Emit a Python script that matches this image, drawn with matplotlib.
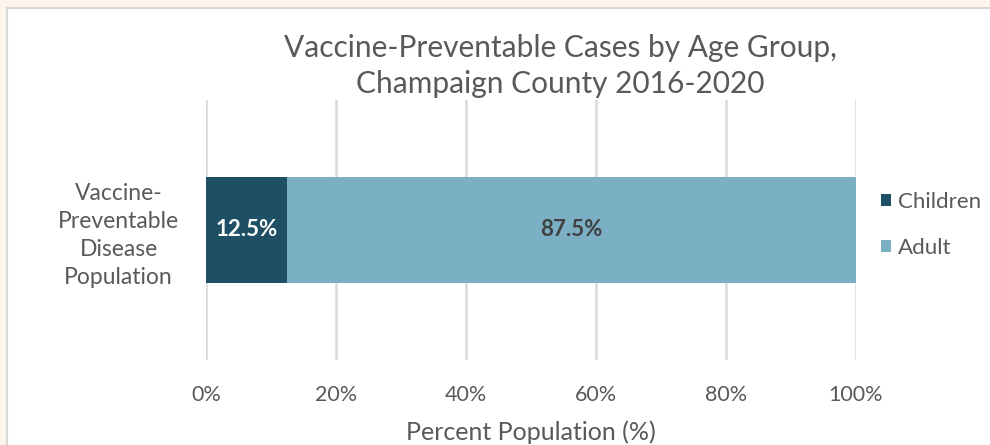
import matplotlib
matplotlib.use("Agg")
import matplotlib.pyplot as plt
from matplotlib.patches import Rectangle
import numpy as np

categories = ["Vaccine-\nPreventable\nDisease\nPopulation"]
series_names = ["Children", "Adult"]
children = [12.5]
adult = [87.5]
x_ticks = [0, 20, 40, 60, 80, 100]
x_tick_labels = ["0%", "20%", "40%", "60%", "80%", "100%"]

colors = ["#1e4f64", "#7aafc4"]
text_gray = "#595959"
font = "Lato"

fig = plt.figure(figsize=(9.9, 4.45), dpi=100)
fig.patch.set_facecolor("#fdf5eb")
# white panel with light border
panel = Rectangle((7/990, -0.01), 1.0, 1 - 8/445 + 0.01, transform=fig.transFigure,
                  facecolor="white", edgecolor="#d8d8d8", linewidth=1.5, zorder=-10)
fig.patches.append(panel)

ax = fig.add_axes([206/990, 1 - 360/445, 650/990, 260/445])
ax.set_facecolor("none")
y = np.arange(len(categories))
ax.barh(y, children, height=0.404, color=colors[0], label=series_names[0], zorder=3)
ax.barh(y, adult, left=children, height=0.404, color=colors[1], label=series_names[1], zorder=3)

for i in range(len(categories)):
    ax.text(children[i] / 2, y[i], f"{children[i]}%", ha="center", va="center",
            color="white", fontsize=16, fontweight="bold", family=font, zorder=4)
    ax.text(children[i] + adult[i] / 2, y[i], f"{adult[i]}%", ha="center", va="center",
            color="#404040", fontsize=16, fontweight="bold", family=font, zorder=4)

ax.set_xlim(0, 100)
ax.set_ylim(-0.5, 0.5)
ax.set_xticks(x_ticks)
ax.set_xticklabels(x_tick_labels, family=font, fontsize=15.5, color=text_gray)
ax.set_yticks(y)
ax.set_yticklabels(categories, family=font, fontsize=16.5, color=text_gray,
                   ha="center", linespacing=1.42)
ax.tick_params(axis="y", length=0, pad=63)
ax.tick_params(axis="x", length=0, pad=18)
ax.grid(axis="x", color="#d9d9d9", linewidth=1.8, zorder=0)
for s in ax.spines.values():
    s.set_visible(False)

ax.set_xlabel("Percent Population (%)", family=font, fontsize=18, color=text_gray, labelpad=11)

fig.text(560/990, 1 - 66/445, "Vaccine-Preventable Cases by Age Group,\nChampaign County 2016-2020",
         ha="center", va="center", family=font, fontsize=21.5, color=text_gray, linespacing=1.38)

leg = ax.legend(loc="center left", bbox_to_anchor=(1.025, 0.52), borderaxespad=0,
                frameon=False,
                prop={"family": font, "size": 16}, handlelength=0.45, handleheight=0.45,
                handletextpad=0.3, labelspacing=1.15, labelcolor=text_gray)

fig.savefig("out.png", dpi=100, facecolor=fig.get_facecolor())
